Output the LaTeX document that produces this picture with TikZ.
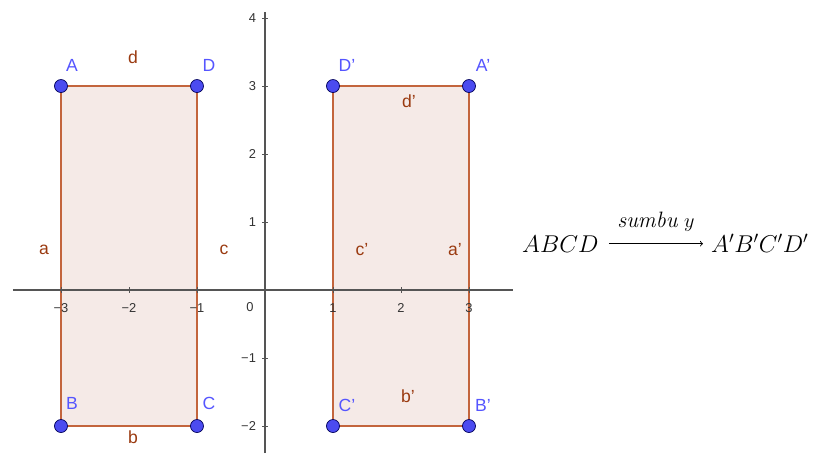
\documentclass[tikz,border=0pt]{standalone}
\usepackage{amsmath}
\usepackage{fontspec}
\setsansfont{Liberation Sans}
\usetikzlibrary{positioning}
\definecolor{sidecol}{HTML}{C3653D}
\definecolor{rectfill}{HTML}{F5EAE7}
\definecolor{ptblue}{HTML}{4B4BF0}
\definecolor{lblblue}{HTML}{5555FF}
\definecolor{seglbl}{HTML}{9A3A10}
\definecolor{axisgray}{HTML}{555555}

\begin{document}
\begin{tikzpicture}[x=2.04cm,y=2.04cm,
  pt/.style={circle,draw=blue!35!black,fill=ptblue,minimum size=3.9mm,inner sep=0pt,line width=0.6pt},
  ptname/.style={text=lblblue,font=\sffamily\fontsize{15}{15}\selectfont,inner sep=0pt},
  segname/.style={text=seglbl,font=\sffamily\fontsize{15}{15}\selectfont,inner sep=0pt},
  side/.style={draw=sidecol,line width=2.4pt,fill=rectfill,line join=round},
  axis/.style={draw=axisgray,line width=0.9pt},
  ticklbl/.style={text=black!80,font=\sffamily\fontsize{11}{11}\selectfont,inner sep=0pt},
  eq/.style={font=\fontsize{21}{25}\selectfont,inner sep=0pt},
  maparrow/.style={->,line width=0.8pt,shorten <=0.3cm,shorten >=0.24cm}
]
\useasboundingbox (-3.897,-2.397) rectangle (8.456,4.265);

% ABCD
\coordinate (A) at (-3,3);
\coordinate (B) at (-3,-2);
\coordinate (C) at (-1,-2);
\coordinate (D) at (-1,3);
\filldraw[side] (A) -- (B) -- (C) -- (D) -- cycle;

% A'B'C'D'
\coordinate (A') at (3,3);
\coordinate (B') at (3,-2);
\coordinate (C') at (1,-2);
\coordinate (D') at (1,3);
\filldraw[side] (A') -- (B') -- (C') -- (D') -- cycle;

% axes
\coordinate (xl) at (-3.706,0);
\coordinate (xr) at (3.647,0);
\coordinate (yb) at (0,-2.397);
\coordinate (yt) at (0,4.088);
\draw[axis] (xl) -- (xr);
\draw[axis] (yb) -- (yt);
\foreach \x in {-3,-2,-1,1,2,3}
  \draw[axis,line width=0.6pt] (\x,0.04) -- (\x,-0.04);
\foreach \y in {-2,-1,1,2,3,4}
  \draw[axis,line width=0.6pt] (0.04,\y) -- (-0.04,\y);
\foreach \x/\t in {-3/\char"2212 3,-2/\char"2212 2,-1/\char"2212 1,1/1,2/2,3/3}
  \node[ticklbl] (tx\x) at (\x,-0.26) {\t};
\foreach \y/\t in {-2/\char"2212 2,-1/\char"2212 1,1/1,2/2,3/3,4/4}
  \node[ticklbl,anchor=east] (ty\y) at (-0.13,\y) {\t};
\node[ticklbl] (t0) at (-0.22,-0.25) {0};

\foreach \p in {A,B,C,D,A',B',C',D'}
  \node[pt] (p\p) at (\p) {};

\node[ptname] (lA) at (-2.838,3.309) {A};
\node[ptname] (lD) at (-0.824,3.309) {D};
\node[ptname] (lB) at (-2.838,-1.662) {B};
\node[ptname] (lC) at (-0.824,-1.662) {C};
\node[ptname] (lD') at (1.206,3.309) {D'};
\node[ptname] (lA') at (3.206,3.309) {A'};
\node[ptname] (lC') at (1.206,-1.691) {C'};
\node[ptname] (lB') at (3.206,-1.691) {B'};

\node[segname] (sd) at (-1.941,3.426) {d};
\node[segname] (sa) at (-3.25,0.588) {a};
\node[segname] (sc) at (-0.603,0.588) {c};
\node[segname] (sb) at (-1.941,-2.162) {b};
\node[segname] (sd') at (2.118,2.779) {d'};
\node[segname] (sc') at (1.426,0.588) {c'};
\node[segname] (sa') at (2.794,0.588) {a'};
\node[segname] (sb') at (2.103,-1.559) {b'};

% reflection
\node[eq,anchor=base west] (src) at (3.779,0.559) {$ABCD$};
\node[eq,anchor=base west] (dst) at (6.559,0.559) {$A'B'C'D'$};
\draw[maparrow] (src.east) -- (src.east -| dst.west);
\node[font=\fontsize{19}{22}\selectfont,inner sep=0pt,anchor=base] (axisname) at (5.75,0.926) {$\mathit{sumbu}\ y$};
\end{tikzpicture}
\end{document}
